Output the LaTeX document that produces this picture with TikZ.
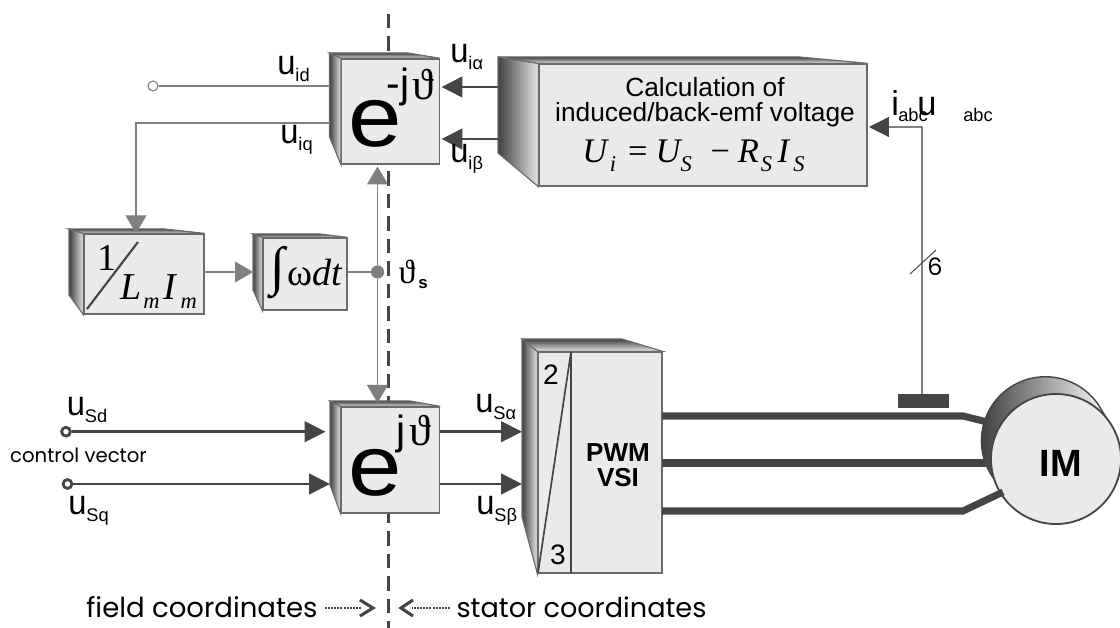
\documentclass[tikz,border=0pt]{standalone}
\usepackage{fontspec}
\setmainfont{Liberation Sans}
\newfontfamily\timesfont{Liberation Serif}
\newfontfamily\geofont{Poppins}
\usetikzlibrary{arrows.meta}
\definecolor{facegray}{HTML}{EBE9EA}
\definecolor{edgegray}{HTML}{6A6A6A}
\definecolor{darkline}{HTML}{454545}
\definecolor{thingray}{HTML}{808080}
\newcommand{\fsz}[1]{\fontsize{#1}{#1}\selectfont}
\newcommand{\usig}[1]{\scalebox{.95}[1]{\fsz{24.5}u}\raisebox{-4.3pt}{\fsz{13}#1}}
\newcommand{\misub}[1]{\raisebox{-5.8pt}{\fsz{16}#1}}
% back faces of a block: front node, back x, back top, back bottom, back right
\newcommand{\blockback}[5]{
   \shade[left color=black!75,right color=black!10,draw=edgegray,line width=0.8pt]
      (#2,#3) -- (#1.north west) -- (#1.south west) -- (#2,#4) -- cycle;
   \shade[top color=black!75,bottom color=black!10,draw=edgegray,line width=0.8pt]
      (#2,#3) -- (#5,#3) -- (#1.north east) -- (#1.north west) -- cycle;
}
\begin{document}
\begin{tikzpicture}[x=0.025cm,y=-0.025cm,
    face/.style ={rectangle, draw=edgegray, fill=facegray, line width=0.9pt, inner sep=0pt},
    sig/.style ={anchor=base west, inner sep=0pt},
    mathtxt/.style ={inner sep=0pt},
    heavy/.style ={draw=darkline, line width=2.1pt, -{Triangle[length=14.9pt,width=14.6pt]}},
    thin arrow/.style ={draw=thingray, line width=0.9pt, -{Triangle[length=12.8pt,width=14.9pt]}},
    plainline/.style ={draw=thingray, line width=0.9pt},
    phase/.style ={draw=darkline, line width=5pt},
    dotted arrow/.style ={draw=darkline, line width=1.6pt, dash pattern=on 1.4pt off 0.8pt},
    terminal/.style ={circle, draw=darkline, fill=white, line width=2pt, minimum size=0.22cm, inner sep=0pt}]
   \useasboundingbox (0,0) rectangle (1120,628);

   % coordinate border
   \coordinate (bordertop) at (388.5,14);
   \coordinate (borderbot) at (388.5,628);
   \draw[draw=darkline,line width=2.2pt,dash pattern=on 10pt off 6pt] (bordertop) to (borderbot);

   % blocks
   \node[face,minimum width=2.44cm,minimum height=2.63cm] (inv) at (390.5,111.5) {};
   \blockback{inv}{329.5}{53}{137}{408}
   \node[face,minimum width=8.2cm,minimum height=3.05cm] (calc) at (703,125) {};
   \blockback{calc}{498}{57}{153}{800}
   \node[face,minimum width=3cm,minimum height=2cm] (flux) at (144,274) {};
   \blockback{flux}{69}{229}{295}{165}
   \node[face,minimum width=2.1cm,minimum height=1.8cm] (integ) at (305,274) {};
   \blockback{integ}{253}{234}{290}{320}
   \node[face,minimum width=2.46cm,minimum height=2.65cm] (rot) at (390.5,460) {};
   \blockback{rot}{330}{401}{485}{410}
   \node[face,minimum width=3.1cm,minimum height=5.525cm] (pwm) at (600,462.5) {};
   \blockback{pwm}{522}{339}{517}{622}
   \coordinate (divtop) at (571,352);
   \coordinate (divbot) at (571,573);
   \coordinate (diagend) at (538,573);
   \draw[draw=darkline,line width=1.6pt] (divtop) to (divbot);
   \draw[draw=darkline,line width=1.2pt] (divtop) to (diagend);

   % block texts
   \node[mathtxt] (invE) at (375,124) {\scalebox{1.12}[1]{\fsz{61}e}};
   \node[mathtxt] (invJ) at (398,87) {\fsz{29}-j};
   \node[mathtxt] (invT) at (423,85) {\fsz{31}\timesfont ϑ};
   \node[mathtxt] (rotE) at (375.5,473) {\scalebox{1.12}[1]{\fsz{61}e}};
   \node[mathtxt] (rotJ) at (401,434) {\fsz{29}j};
   \node[mathtxt] (rotT) at (420,431) {\fsz{31}\timesfont ϑ};
   \node[mathtxt,align=center] (calcText) at (705,102.5) {\fsz{18.7}Calculation of\\[2.8pt]\fsz{18.7}induced/back-emf voltage};
   \node[sig] (calcEq) at (582,163) {\fsz{24.5}\timesfont\itshape U\hspace{2pt}\misub{i}\hspace{8.5pt}\upshape =\hspace{5.7pt}\itshape U\misub{S}\hspace{13.5pt}\upshape −\hspace{5.4pt}\itshape R\hspace{1.4pt}\misub{S}\hspace{4pt}I\hspace{3pt}\misub{S}};
   \node[mathtxt] (fluxOne) at (107,258) {\fsz{27}\timesfont 1};
   \coordinate (slashtop) at (138,242);
   \coordinate (slashbot) at (87,309);
   \draw[draw=darkline,line width=1.5pt] (slashtop) to (slashbot);
   \node[sig] (fluxDen) at (120,300) {\fsz{27}\timesfont\itshape L\hspace{1.4pt}\misub{m}\hspace{3pt}I\hspace{3pt}\misub{m}};
   \node[mathtxt] (integSign) at (278,273) {\fsz{38}\timesfont ∫};
   \node[mathtxt] (integArg) at (315,273) {\fsz{27}\timesfont ω\itshape dt};
   \node[mathtxt,align=center] (pwmText) at (618,465) {\fsz{18.5}\bfseries PWM\\[4pt]\fsz{18.5}\bfseries VSI};
   \node[mathtxt] (two) at (551,375) {\fsz{20}2};
   \node[mathtxt] (three) at (558,555) {\fsz{20}3};

   % upper signal paths
   \node[circle,draw=thingray,fill=white,line width=0.8pt,minimum size=0.25cm,inner sep=0pt] (open) at (153,86) {};
   \coordinate (idin) at (329.5,86);
   \coordinate (iqin) at (329.5,123);
   \coordinate (iqcorner) at (136,123);
   \draw[plainline] (open) to (idin);
   \draw[thin arrow] (iqin) -- (iqcorner) -- (flux.north -| iqcorner);
   \coordinate (fluxout) at (204,272);
   \coordinate (integin) at (253,272);
   \coordinate (integout) at (347,272);
   \node[circle,fill=thingray,minimum size=0.33cm,inner sep=0pt] (angle) at (377.5,272) {};
   \draw[thin arrow] (fluxout) to (integin);
   \draw[plainline] (integout) to (angle);
   \coordinate (invbelow) at (377.5,166.5);
   \coordinate (rotabove) at (377.5,403);
   \draw[thin arrow] (angle) to (invbelow);
   \draw[thin arrow] (angle) to (rotabove);
   \coordinate (calcA) at (498,87);
   \coordinate (calcB) at (498,139);
   \coordinate (invA) at (441.5,87);
   \coordinate (invB) at (441.5,139);
   \draw[heavy] (calcA) to (invA);
   \draw[heavy] (calcB) to (invB);

   % lower signal paths
   \node[terminal] (sd) at (66,431.7) {};
   \node[terminal] (sq) at (67.5,484) {};
   \coordinate (rotD) at (325.5,431.7);
   \coordinate (rotQ) at (330,484);
   \draw[heavy] (sd) to (rotD);
   \draw[heavy] (sq) to (rotQ);
   \coordinate (rotA) at (439.5,431.7);
   \coordinate (rotB) at (439.5,484);
   \coordinate (pwmA) at (522,431.7);
   \coordinate (pwmB) at (522,484);
   \draw[heavy] (rotA) to (pwmA);
   \draw[heavy] (rotB) to (pwmB);

   % motor
   \shade[left color=black!80,right color=white,draw=darkline,line width=1pt]
      (992,476) arc[start angle=213.4,end angle=33.4,radius=1.6cm] -- (1110,424) -- (1004,494) -- cycle;
   \node[circle,draw=darkline,fill=facegray,line width=1.3pt,minimum size=3.25cm,inner sep=0pt] (motor) at (1056,459) {};
   \node[mathtxt] (motorText) at (1061,463) {\fsz{27}\bfseries IM};
   \coordinate (bendA) at (963,416);
   \coordinate (bendB) at (963,463);
   \coordinate (bendC) at (963,511);
   \coordinate (motA) at (987,422);
   \coordinate (motB) at (988,463);
   \coordinate (motC) at (1003,492);
   \coordinate (pwmU) at (662,416);
   \coordinate (pwmV) at (662,463);
   \coordinate (pwmW) at (662,511);
   \draw[phase] (pwmU) -- (bendA) -- (motA);
   \draw[phase] (pwmV) -- (bendB) -- (motB);
   \draw[phase] (pwmW) -- (bendC) -- (motC);

   % measurement feedback
   \node[rectangle,fill=darkline,minimum width=1.275cm,minimum height=0.35cm,inner sep=0pt] (sensor) at (923.5,401) {};
   \coordinate (fbcorner) at (922,127);
   \coordinate (calcin) at (869,127);
   \draw[thin arrow,-{Triangle[length=14.2pt,width=14.2pt,color=darkline]}] (sensor.north -| fbcorner) -- (fbcorner) -- (calcin);
   \coordinate (tickbot) at (910,274);
   \coordinate (ticktop) at (936,250);
   \draw[draw=darkline,line width=0.7pt] (tickbot) to (ticktop);
   \node[mathtxt] (six) at (935,267) {\fsz{17}\geofont 6};

   % signal names
   \node[sig] (uid) at (277,75) {\usig{id}};
   \node[sig] (uiq) at (280,144) {\usig{iq}};
   \node[sig] (uia) at (450,63) {\usig{iα}};
   \node[sig] (uib) at (450,163) {\usig{iβ}};
   \node[sig] (usd) at (66.5,416) {\usig{Sd}};
   \node[sig] (usq) at (68,515) {\usig{Sq}};
   \node[sig] (usa) at (475,413) {\usig{Sα}};
   \node[sig] (usb) at (476,515) {\usig{Sβ}};
   \node[mathtxt] (anglesym) at (407,272) {\fsz{24}\timesfont ϑ};
   \node[mathtxt] (anglesub) at (423,284) {\fsz{12}\bfseries s};
   \node[sig] (iabc) at (891,116) {\fsz{24.5}i};
   \node[sig] (iabcsub) at (898,122) {\fsz{13}abc};
   \node[sig] (uabc) at (917,116) {\fsz{24.5}u};
   \node[sig] (uabcsub) at (963,122) {\fsz{13}abc};
   \node[mathtxt] (ctrl) at (78.5,455) {\fsz{14}\geofont control vector};

   % bottom captions
   \node[mathtxt] (fieldcap) at (202,607) {\fsz{19.6}\geofont field coordinates};
   \node[mathtxt] (statorcap) at (581.5,607) {\fsz{19.3}\geofont stator coordinates};
   \coordinate (fieldA) at (325,608);
   \coordinate (fieldB) at (362,608);
   \coordinate (statorA) at (450,608);
   \coordinate (statorB) at (412,608);
   \coordinate (fieldtipA) at (360,600);
   \coordinate (fieldtipB) at (373,608);
   \coordinate (fieldtipC) at (360,616);
   \coordinate (statortipA) at (413,600);
   \coordinate (statortipB) at (401,608);
   \coordinate (statortipC) at (413,616);
   \draw[dotted arrow] (fieldA) to (fieldB);
   \draw[dotted arrow] (statorA) to (statorB);
   \draw[draw=darkline,line width=2.2pt] (fieldtipA) -- (fieldtipB) -- (fieldtipC);
   \draw[draw=darkline,line width=2.2pt] (statortipA) -- (statortipB) -- (statortipC);
\end{tikzpicture}
\end{document}
